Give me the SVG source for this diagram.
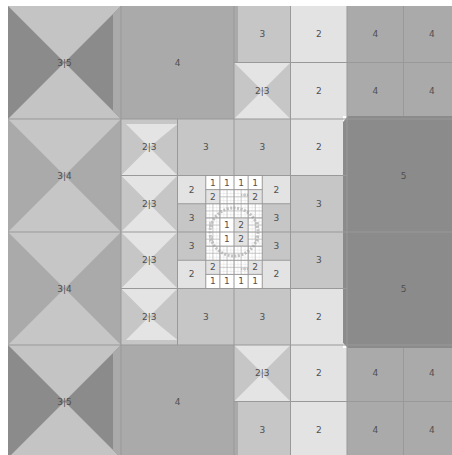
<svg xmlns="http://www.w3.org/2000/svg" width="452" height="455" viewBox="0 0 452 455">
<style>
.l2{fill:#e3e3e3}.l3{fill:#c6c6c6}.l4{fill:#aaaaaa}.l5{fill:#8b8b8b}.l1{fill:#ffffff}
.t{font-family:"DejaVu Sans",sans-serif;font-size:9px;fill:#505050;text-anchor:middle;dominant-baseline:central}
.grid{fill:none;stroke:#999;stroke-width:1}
.fine{fill:none;stroke:#b4b4b4;stroke-width:0.6}
.hg{fill:#bdbdbd}
</style>
<defs>
<g id="hg"><polygon points="0,0 1.77,1.77 0,3.53"/><polygon points="3.53,0 1.77,1.77 3.53,3.53"/></g>
<pattern id="sub" patternUnits="userSpaceOnUse" x="205.75" y="175.5" width="3.53125" height="3.53125">
<path d="M0,0H3.53125M0,0V3.53125" fill="none" stroke="#c4c4c4" stroke-width="0.5"/>
</pattern>
<clipPath id="fc">
<rect x="219.875" y="189.625" width="28.25" height="14.125"/>
<rect x="205.75" y="203.75" width="56.5" height="14.125"/>
<rect x="205.75" y="217.875" width="14.125" height="28.25"/>
<rect x="248.125" y="217.875" width="14.125" height="28.25"/>
<rect x="205.75" y="246.125" width="56.5" height="14.125"/>
<rect x="219.875" y="260.25" width="28.25" height="14.125"/>
</clipPath>
</defs>
<rect width="452" height="455" fill="#fff"/>
<g id="nodes">
<g id="n-tl35"><rect class="l5" x="8" y="6" width="113" height="113"/><polygon fill="#c4c4c4" points="8,6 121,6 64.5,62.5"/><polygon fill="#c4c4c4" points="8,119 121,119 64.5,62.5"/><polygon class="l4" points="113,14 121,6 121,119 113,111"/><text class="t" x="64.5" y="62.5">3|5</text></g>
<g id="n-l34a"><rect class="l4" x="8" y="119" width="113" height="113"/><polygon class="l3" points="8,119 121,119 64.5,175.5"/><polygon class="l3" points="8,232 121,232 64.5,175.5"/><text class="t" x="64.5" y="175.5">3|4</text></g>
<g id="n-l34b"><rect class="l4" x="8" y="232" width="113" height="113"/><polygon class="l3" points="8,232 121,232 64.5,288.5"/><polygon class="l3" points="8,345 121,345 64.5,288.5"/><text class="t" x="64.5" y="288.5">3|4</text></g>
<g id="n-bl35"><rect class="l5" x="8" y="345" width="113" height="113"/><polygon fill="#c4c4c4" points="8,345 121,345 64.5,401.5"/><polygon fill="#c4c4c4" points="8,458 121,458 64.5,401.5"/><polygon class="l4" points="113,353 121,345 121,458 113,450"/><text class="t" x="64.5" y="401.5">3|5</text></g>
<g id="n-t4"><rect class="l4" x="121" y="6" width="113" height="113"/><text class="t" x="177.5" y="62.5">4</text></g>
<g id="n-b4"><rect class="l4" x="121" y="345" width="113" height="113"/><text class="t" x="177.5" y="401.5">4</text></g>
<g id="n-tr4"><rect class="l4" x="347" y="6" width="113" height="113"/><text class="t" x="375.25" y="34.25">4</text><text class="t" x="431.75" y="34.25">4</text><text class="t" x="375.25" y="90.75">4</text><text class="t" x="431.75" y="90.75">4</text></g>
<g id="n-br4"><rect class="l4" x="347" y="345" width="113" height="113"/><text class="t" x="375.25" y="373.25">4</text><text class="t" x="431.75" y="373.25">4</text><text class="t" x="375.25" y="429.75">4</text><text class="t" x="431.75" y="429.75">4</text></g>
<g id="n-5"><polygon class="l5" points="343,122 348,116 452,116 452,348 348,348 343,343"/><text class="t" x="403.5" y="175.5">5</text><text class="t" x="403.5" y="288.5">5</text></g>
<g id="n-col2"><rect class="l2" x="290.5" y="6" width="52.5" height="169.5"/><rect class="l2" x="290.5" y="288.5" width="52.5" height="166.5"/><rect class="l2" x="343" y="6" width="4" height="110"/><rect class="l2" x="343" y="348" width="4" height="107"/>
<text class="t" x="318.75" y="34.25">2</text><text class="t" x="318.75" y="90.75">2</text><text class="t" x="318.75" y="147.25">2</text><text class="t" x="318.75" y="316.75">2</text><text class="t" x="318.75" y="373.25">2</text><text class="t" x="318.75" y="429.75">2</text></g>
<g id="n-threes">
<rect class="l3" x="234" y="6" width="56.5" height="56.5"/><rect class="l4" x="234" y="6" width="4" height="56.5"/>
<rect class="l3" x="177.5" y="119" width="56.5" height="56.5"/>
<rect class="l3" x="234" y="119" width="56.5" height="56.5"/>
<rect class="l3" x="290.5" y="175.5" width="52.5" height="113"/>
<rect class="l3" x="177.5" y="288.5" width="56.5" height="56.5"/>
<rect class="l3" x="234" y="288.5" width="56.5" height="56.5"/>
<rect class="l3" x="234" y="401.5" width="56.5" height="56.5"/><rect class="l4" x="234" y="401.5" width="4" height="56.5"/>
<text class="t" x="262.25" y="34.25">3</text><text class="t" x="205.75" y="147.25">3</text><text class="t" x="262.25" y="147.25">3</text><text class="t" x="318.75" y="203.75">3</text><text class="t" x="318.75" y="260.25">3</text><text class="t" x="205.75" y="316.75">3</text><text class="t" x="262.25" y="316.75">3</text><text class="t" x="262.25" y="429.75">3</text></g>
<g id="n-23">
<rect class="l3" x="234" y="62.5" width="56.5" height="56.5"/><polygon fill="#e4e4e4" points="234,62.5 290.5,62.5 262.25,90.75"/><polygon fill="#e4e4e4" points="234,119 290.5,119 262.25,90.75"/>
<rect class="l3" x="121" y="119" width="56.5" height="56.5"/><polygon fill="#e4e4e4" points="126,124 177.5,124 149.25,147.25"/><polygon fill="#e4e4e4" points="121,175.5 177.5,175.5 149.25,147.25"/>
<rect class="l3" x="121" y="175.5" width="56.5" height="56.5"/><polygon fill="#e4e4e4" points="121,175.5 177.5,175.5 149.25,203.75"/><polygon fill="#e4e4e4" points="121,232 177.5,232 149.25,203.75"/>
<rect class="l3" x="121" y="232" width="56.5" height="56.5"/><polygon fill="#e4e4e4" points="121,232 177.5,232 149.25,260.25"/><polygon fill="#e4e4e4" points="121,288.5 177.5,288.5 149.25,260.25"/>
<rect class="l3" x="121" y="288.5" width="56.5" height="56.5"/><polygon fill="#e4e4e4" points="121,288.5 177.5,288.5 149.25,316.75"/><polygon fill="#e4e4e4" points="126,340 177.5,340 149.25,316.75"/>
<rect class="l3" x="234" y="345" width="56.5" height="56.5"/><polygon fill="#e4e4e4" points="234,345 290.5,345 262.25,373.25"/><polygon fill="#e4e4e4" points="234,401.5 290.5,401.5 262.25,373.25"/>
<text class="t" x="262.25" y="90.75">2|3</text><text class="t" x="149.25" y="147.25">2|3</text><text class="t" x="149.25" y="203.75">2|3</text><text class="t" x="149.25" y="260.25">2|3</text><text class="t" x="149.25" y="316.75">2|3</text><text class="t" x="262.25" y="373.25">2|3</text></g>
<g id="n-center">
<rect class="l1" x="177.5" y="175.5" width="113" height="113"/>
<rect class="l2" x="177.5" y="175.5" width="28.25" height="28.25"/><rect class="l2" x="262.25" y="175.5" width="28.25" height="28.25"/>
<rect class="l2" x="177.5" y="260.25" width="28.25" height="28.25"/><rect class="l2" x="262.25" y="260.25" width="28.25" height="28.25"/>
<rect class="l3" x="177.5" y="203.75" width="28.25" height="56.5"/><rect class="l3" x="262.25" y="203.75" width="28.25" height="56.5"/>
<rect class="l2" x="205.75" y="189.625" width="14.125" height="14.125"/><rect class="l2" x="248.125" y="189.625" width="14.125" height="14.125"/>
<rect class="l2" x="234" y="217.875" width="14.125" height="28.25"/>
<rect class="l2" x="205.75" y="260.25" width="14.125" height="14.125"/><rect class="l2" x="248.125" y="260.25" width="14.125" height="14.125"/>
<rect x="205.75" y="175.5" width="56.5" height="113" fill="url(#sub)" clip-path="url(#fc)"/>
<g clip-path="url(#fc)"><circle cx="234" cy="232" r="24" fill="none" stroke="#c2c2c2" stroke-width="3" stroke-dasharray="2 1.5"/></g>
<path class="fine" d="M226.94,189.625V203.75M241.06,189.625V203.75M219.875,196.69H248.125M212.81,203.75V260.25M255.19,203.75V260.25M226.94,203.75V217.875M241.06,203.75V217.875M205.75,210.81H262.25M205.75,224.94H219.875M248.125,224.94H262.25M205.75,239.06H219.875M248.125,239.06H262.25M226.94,246.125V274.375M241.06,246.125V274.375M205.75,253.19H262.25M219.875,267.31H248.125"/>
<g class="hg"><use href="#hg" x="241.06" y="193.16"/><use href="#hg" x="244.59" y="193.16"/><use href="#hg" x="241.06" y="267.31"/><use href="#hg" x="244.59" y="267.31"/>
<use href="#hg" x="209.28" y="221.41"/><use href="#hg" x="209.28" y="224.94"/><use href="#hg" x="209.28" y="235.53"/><use href="#hg" x="209.28" y="239.06"/>
<use href="#hg" x="255.19" y="221.41"/><use href="#hg" x="255.19" y="224.94"/><use href="#hg" x="255.19" y="235.53"/><use href="#hg" x="255.19" y="239.06"/></g>
<text class="t" x="191.6" y="189.6">2</text><text class="t" x="276.4" y="189.6">2</text><text class="t" x="191.6" y="274.4">2</text><text class="t" x="276.4" y="274.4">2</text>
<text class="t" x="191.6" y="217.9">3</text><text class="t" x="276.4" y="217.9">3</text><text class="t" x="191.6" y="246.1">3</text><text class="t" x="276.4" y="246.1">3</text>
<text class="t" x="212.8" y="182.6">1</text><text class="t" x="226.9" y="182.6">1</text><text class="t" x="241.1" y="182.6">1</text><text class="t" x="255.2" y="182.6">1</text>
<text class="t" x="212.8" y="196.7">2</text><text class="t" x="255.2" y="196.7">2</text>
<text class="t" x="226.9" y="224.9">1</text><text class="t" x="241.1" y="224.9">2</text><text class="t" x="226.9" y="239.1">1</text><text class="t" x="241.1" y="239.1">2</text>
<text class="t" x="212.8" y="267.3">2</text><text class="t" x="255.2" y="267.3">2</text>
<text class="t" x="212.8" y="281.4">1</text><text class="t" x="226.9" y="281.4">1</text><text class="t" x="241.1" y="281.4">1</text><text class="t" x="255.2" y="281.4">1</text>
</g>
</g>
<g id="connectors">
<path class="grid" d="M121,6V455M234,6V455M347,6V116M347,348V455M8,119H452M8,232H343M8,345H452M177.5,119V345M290.5,6V455M403.5,6V116M403.5,348V455M234,62.5H452M121,175.5H347M121,288.5H347M234,401.5H452"/>
<path class="grid" stroke="#858585" d="M347,116V348M343,232H452"/>
<path class="grid" stroke="#a8a8a8" d="M205.75,175.5V288.5M262.25,175.5V288.5M177.5,203.75H290.5M177.5,260.25H290.5M219.875,175.5V288.5M248.125,175.5V288.5M205.75,189.625H262.25M205.75,217.875H262.25M205.75,246.125H262.25M205.75,274.375H262.25"/>
</g>
</svg>
